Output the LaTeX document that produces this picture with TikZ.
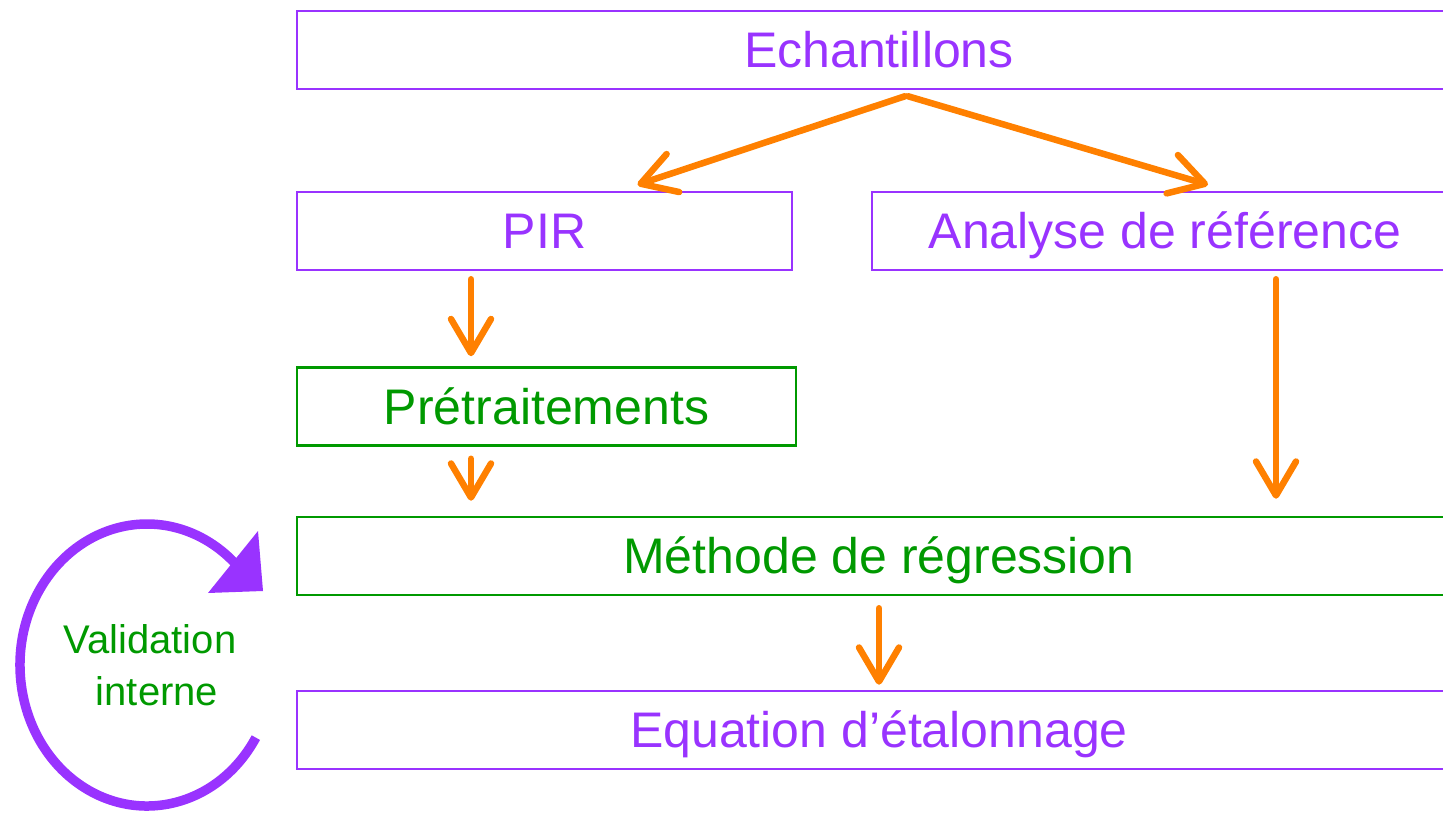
\documentclass[tikz,border=0pt]{standalone}
\usepackage{fontspec}
\setmainfont{Liberation Sans}
\usetikzlibrary{arrows.meta,calc}
\definecolor{vio}{RGB}{153,51,255}
\definecolor{vert}{RGB}{0,153,0}
\definecolor{oran}{RGB}{255,128,0}
\begin{document}
\begin{tikzpicture}[x=1pt,y=-1pt,
  box/.style={draw, line width=2.5pt, inner sep=0pt, minimum height=78pt,
    text height=35.5pt, text depth=0pt, font=\fontsize{50}{58}\selectfont},
  vbox/.style={box, draw=vio, text=vio},
  gbox/.style={box, draw=vert, text=vert},
  flow/.style={draw=oran, line width=6.5pt, line cap=round, line join=round,
    -{Straight Barb[length=34pt,width=40pt,round]}},
  loop/.style={draw=vio, line width=9.5pt},
  looptext/.style={text=vert, font=\fontsize{40}{52}\selectfont}]
\useasboundingbox (0,0) rectangle (1443,818);
\clip (0,0) rectangle (1443,818);

\node[vbox, minimum width=1164pt] (ech) at (879,50) {Echantillons};
\node[vbox, minimum width=495pt] (pir) at (544.5,231) {PIR};
\node[vbox, minimum width=586pt] (ana) at (1165,231) {Analyse de référence};
\node[gbox, minimum width=499pt] (pre) at (546.5,406.5) {Prétraitements};
\node[gbox, minimum width=1164pt] (meth) at (879,556) {Méthode de régression};
\node[vbox, minimum width=1164pt] (eq) at (879,730) {Equation d’étalonnage};

\draw[flow] ($(ech.south)+(26,6)$) -- ($(pir.north)+(93,-6)$);
\draw[flow] ($(ech.south)+(29,6)$) -- ($(ana.north)+(43,-6)$);
\draw[flow] ($(pir.south)+(-73.5,8)$) -- ($(pre.north)+(-75.5,-10)$);
\draw[flow] ($(pre.south)+(-75.5,12)$) -- ($(meth.north)+(-408,-15)$);
\draw[flow] ($(ana.south)+(111,8)$) -- ($(meth.north)+(397,-17)$);
\draw[flow] ($(meth.south)+(0,12)$) -- ($(eq.north)+(0,-5)$);

\node[looptext, anchor=base] (val1) at (150,653) {Validation};
\node[looptext, anchor=base] (val2) at (157,705) {interne};
\draw[loop] (147,665) ++(31:127 and 141) arc[start angle=31, end angle=315, x radius=127, y radius=141];
\fill[vio] (258,531) -- (263,591) -- (208,593) -- cycle;
\end{tikzpicture}
\end{document}
